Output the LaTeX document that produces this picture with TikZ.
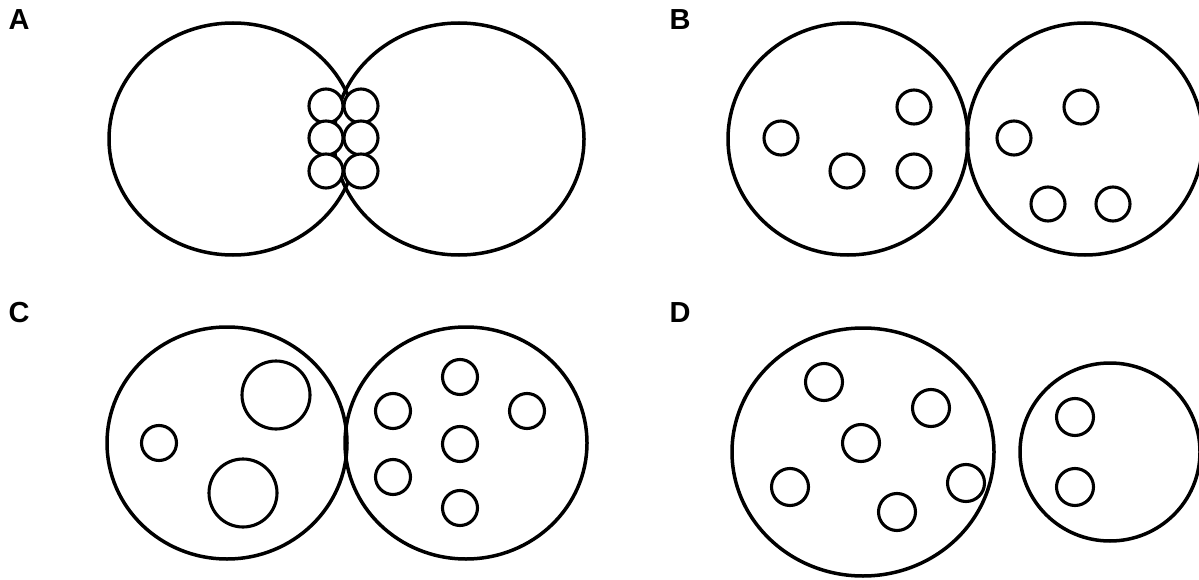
\documentclass[tikz,border=0pt]{standalone}
\usepackage{fontspec}
\usepackage{tikz}
\usetikzlibrary{positioning,shapes.geometric}
\newfontfamily\panelfont{Liberation Sans}
\tikzset{
  cell/.style    ={ellipse, draw=black, line width=3.5pt, inner sep=0pt},
  vesicle/.style ={circle, draw=black, fill=white, line width=3.1pt,
                   minimum size=34pt, inner sep=0pt},
  bigves/.style  ={vesicle, minimum size=68pt},
  plabel/.style  ={font=\panelfont\bfseries\fontsize{29}{34}\selectfont, inner sep=0pt},
}
\newcommand{\vesset}[3]{%
  \foreach \vx/\vy [count=\k] in {#3}{%
     \node[vesicle, minimum size=#2pt] (#1-\k) at (\vx,\vy) {};}}

\begin{document}
\begin{tikzpicture}[x=1pt, y=-1pt]
  \useasboundingbox (0,0) rectangle (1199,580);
  % A
  \node[plabel] (labA) at (19,20) {A};
  \node[cell, minimum width=248pt, minimum height=232pt] (A-left)  at (233,139) {};
  \node[cell, minimum width=250pt, minimum height=232pt] (A-right) at (459,139) {};
  \vesset{A}{34}{326/106, 326/138, 326/171, 361/106, 361/138, 361/171}
  % B
  \node[plabel] (labB) at (680,20) {B};
  \node[cell, minimum width=240pt, minimum height=232pt] (B-left)  at (848,139) {};
  \node[cell, minimum width=236pt, minimum height=232pt] (B-right) at (1085,139) {};
  \vesset{B}{34}{781/138, 914/107, 847/171, 914/171,
                 1014/138, 1081/107, 1048/204, 1113/204}
  % C
  \node[plabel] (labC) at (19,313) {C};
  \node[cell, minimum width=240pt, minimum height=232pt] (C-left)  at (227,443) {};
  \node[cell, minimum width=242pt, minimum height=232pt] (C-right) at (466,443) {};
  \node[vesicle, minimum size=35pt] (C-s) at (159,443) {};
  \node[bigves] (C-big1) at (276,395) {};
  \node[bigves] (C-big2) at (243,493) {};
  \vesset{Cr}{35}{460/377, 393/411, 527/411, 460/444, 393/477, 460/508}
  % D
  \node[plabel] (labD) at (680,313) {D};
  \node[cell, minimum width=262pt, minimum height=248pt] (D-left)  at (863,452) {};
  \node[cell, minimum width=180pt, minimum height=178pt] (D-right) at (1110,452) {};
  \vesset{D}{37}{824/382, 931/408, 861/443, 790/487, 966/483, 897/512,
                 1075/417, 1075/487}
\end{tikzpicture}
\end{document}
